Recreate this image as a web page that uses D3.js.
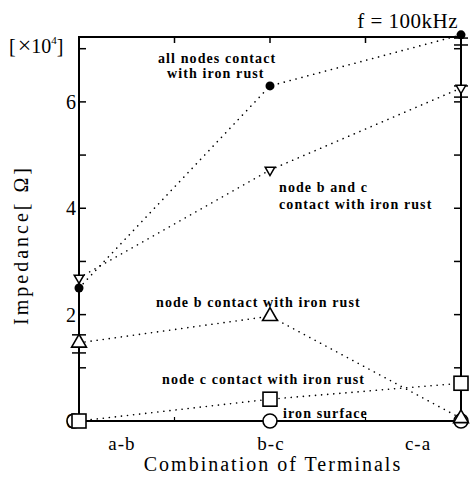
<!DOCTYPE html>
<html>
<head>
<meta charset="utf-8">
<script src="https://cdn.jsdelivr.net/npm/d3@7"></script>
<style>
  body { margin: 0; background: #fff; }
  text { font-family: "Liberation Serif", "DejaVu Serif", serif; fill: #000; }
</style>
</head>
<body>
<div id="chart"></div>
<script>
// terminal combinations (x positions 0,1,2)
const terminals = ["a-b", "b-c", "c-a"];

// impedance values, unit 10^4 ohm
const allNodes   = [2.5, 6.3, 7.26];
const nodeBandC  = [2.69, 4.72, 6.26];
const nodeB      = [1.47, 1.97, 0.05];
const nodeC      = [0.0, 0.41, 0.71];
const ironSurf   = [0.0, 0.0, 0.0];

// error bar ends (x index, low, high)
const errBars = [
  { i: 0, lo: 1.28, hi: 1.62 },
  { i: 2, lo: 6.09, hi: 6.3 },
  { i: 2, lo: 7.07, hi: 7.2 }
];

const yTicks = [0, 2, 4, 6];
const yMinor = [1, 3, 5, 7];

const W = 475, H = 480;
const margin = { top: 37, right: 14, bottom: 59, left: 79 };

const svg = d3.select("#chart").append("svg")
  .attr("width", W).attr("height", H);

const x = d3.scaleLinear().domain([0, 2]).range([margin.left, W - margin.right]);
const y = d3.scaleLinear().domain([0, 7.22]).range([H - margin.bottom, margin.top]);

const g = svg.append("g");

// frame
g.append("rect")
  .attr("x", x(0)).attr("y", y(7.22))
  .attr("width", x(2) - x(0)).attr("height", y(0) - y(7.22))
  .attr("fill", "none").attr("stroke", "#000").attr("stroke-width", 2);

// left + right axis ticks (inside)
const tickLen = 7;
[...yTicks, ...yMinor].forEach(v => {
  g.append("line")
    .attr("x1", x(0)).attr("x2", x(0) + tickLen)
    .attr("y1", y(v)).attr("y2", y(v))
    .attr("stroke", "#000").attr("stroke-width", 1.5);
  g.append("line")
    .attr("x1", x(2)).attr("x2", x(2) - tickLen)
    .attr("y1", y(v)).attr("y2", y(v))
    .attr("stroke", "#000").attr("stroke-width", 1.5);
});
g.selectAll(".ylab").data(yTicks).enter().append("text")
  .attr("x", x(0) - 3).attr("y", d => y(d))
  .attr("dy", "0.35em").attr("text-anchor", "end")
  .attr("font-size", 20).text(d => d);

// top/bottom ticks
[0.5, 1, 1.5].forEach(v => {
  g.append("line").attr("x1", x(v)).attr("x2", x(v))
    .attr("y1", y(7.22)).attr("y2", y(7.22) + 6)
    .attr("stroke", "#000").attr("stroke-width", 1.5);
  g.append("line").attr("x1", x(v)).attr("x2", x(v))
    .attr("y1", y(0)).attr("y2", y(0) - 4)
    .attr("stroke", "#000").attr("stroke-width", 1.2);
});

// x category labels
const labelShift = [43, 1, -43];
g.selectAll(".xlab").data(terminals).enter().append("text")
  .attr("x", (d, i) => x(i) + labelShift[i]).attr("y", y(0) + 29)
  .attr("text-anchor", "middle").attr("font-size", 19)
  .style("letter-spacing", "1px")
  .text(d => d);

// axis titles
svg.append("text")
  .attr("x", 273).attr("y", 471)
  .attr("text-anchor", "middle").attr("font-size", 20)
  .style("letter-spacing", "2px")
  .text("Combination of Terminals");

svg.append("text")
  .attr("transform", "translate(28," + 245 + ") rotate(-90)")
  .attr("text-anchor", "middle").attr("font-size", 20)
  .style("letter-spacing", "3px")
  .text("Impedance[ \u03A9]");

svg.append("text")
  .attr("x", 9).attr("y", 53).attr("font-size", 20)
  .html("[<tspan font-size='24' dx='2'>\u00D7</tspan>10<tspan dy='-9' font-size='11'>4</tspan><tspan dy='9'>]</tspan>");

svg.append("text")
  .attr("x", 458).attr("y", 28).attr("text-anchor", "end")
  .attr("font-size", 21).style("letter-spacing", "0.5px").text("f = 100kHz");

// dotted series lines
const line = d3.line().x((d, i) => x(i)).y(d => y(d));
[allNodes, nodeBandC, nodeB, nodeC, ironSurf].forEach(s => {
  g.append("path").attr("d", line(s))
    .attr("fill", "none").attr("stroke", "#000")
    .attr("stroke-width", 1.6).attr("stroke-linecap", "round")
    .attr("stroke-dasharray", "0.1 6");
});

// error bars
errBars.forEach(e => {
  g.append("line").attr("x1", x(e.i)).attr("x2", x(e.i))
    .attr("y1", y(e.lo)).attr("y2", y(e.hi))
    .attr("stroke", "#000").attr("stroke-width", 1.5);
  [e.lo, e.hi].forEach(v => g.append("line")
    .attr("x1", x(e.i) - 7).attr("x2", x(e.i) + 7)
    .attr("y1", y(v)).attr("y2", y(v))
    .attr("stroke", "#000").attr("stroke-width", 1.5));
});

// markers
function sym(type, size) { return d3.symbol().type(type).size(size)(); }

g.selectAll(".m-iron").data(ironSurf).enter().append("circle")
  .attr("cx", (d, i) => x(i) - (i === 0 ? 5 : 0)).attr("cy", d => y(d)).attr("r", 7)
  .attr("fill", "#fff").attr("stroke", "#000").attr("stroke-width", 1.6);

g.selectAll(".m-c").data(nodeC).enter().append("rect")
  .attr("x", (d, i) => x(i) - 7).attr("y", d => y(d) - 7)
  .attr("width", 14).attr("height", 14)
  .attr("fill", "#fff").attr("stroke", "#000").attr("stroke-width", 1.6);

g.selectAll(".m-b").data(nodeB).enter().append("path")
  .attr("d", sym(d3.symbolTriangle, 95))
  .attr("transform", (d, i) => "translate(" + x(i) + "," + y(d) + ")")
  .attr("fill", "#fff").attr("stroke", "#000").attr("stroke-width", 1.6);

g.selectAll(".m-bc").data(nodeBandC).enter().append("path")
  .attr("d", sym(d3.symbolTriangle, 40))
  .attr("transform", (d, i) => "translate(" + x(i) + "," + y(d) + ") rotate(180)")
  .attr("fill", "#fff").attr("stroke", "#000").attr("stroke-width", 1.5);

g.selectAll(".m-all").data(allNodes).enter().append("circle")
  .attr("cx", (d, i) => x(i)).attr("cy", d => y(d)).attr("r", 4.5)
  .attr("fill", "#000");

// annotations
const notes = [
  { x: 158, y: 63, t: "all nodes contact" },
  { x: 167, y: 78, t: "with iron rust" },
  { x: 279, y: 192, t: "node b and c" },
  { x: 279, y: 209, t: "contact with iron rust" },
  { x: 156, y: 307, t: "node b contact with iron rust" },
  { x: 162, y: 384, t: "node c contact with iron rust" },
  { x: 283, y: 418, t: "iron surface" }
];
g.selectAll(".note").data(notes).enter().append("text")
  .attr("x", d => d.x).attr("y", d => d.y)
  .attr("font-size", 14).attr("font-weight", "bold")
  .style("letter-spacing", "1.1px")
  .text(d => d.t);
</script>
</body>
</html>
